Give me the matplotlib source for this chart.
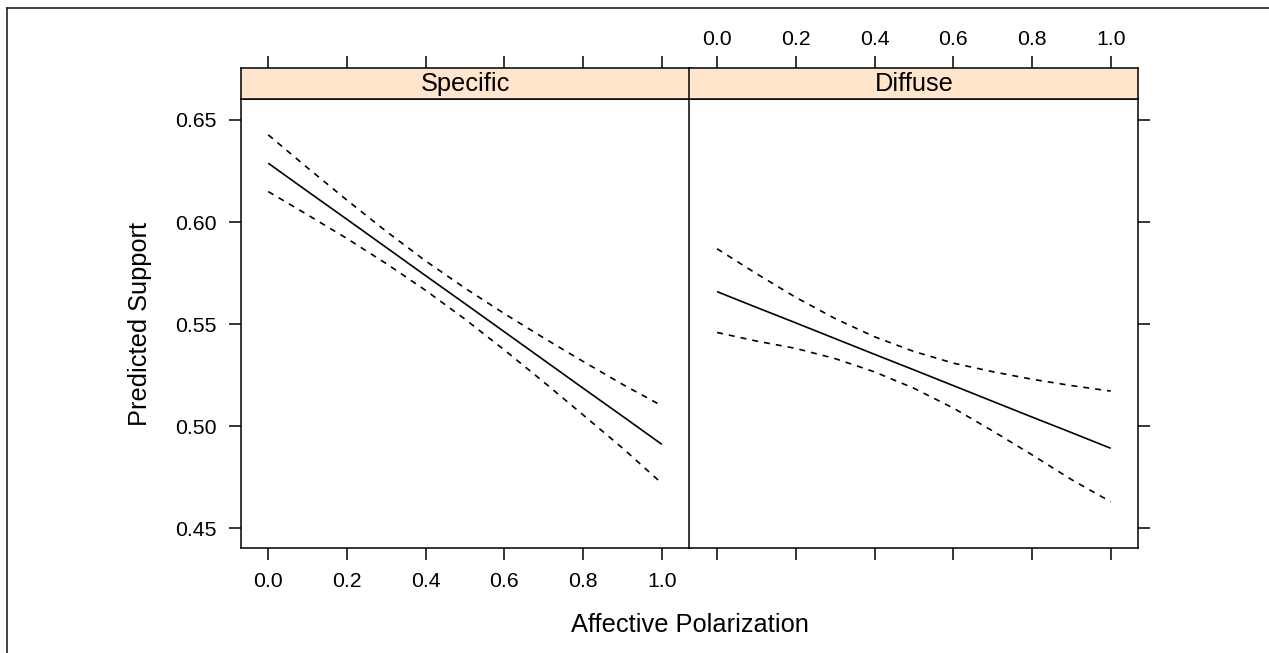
import matplotlib
matplotlib.use("Agg")
import matplotlib.pyplot as plt
from matplotlib.lines import Line2D

plt.rcParams['font.family'] = ['Liberation Sans', 'DejaVu Sans']

# ---- data ----
panels = ["Specific", "Diffuse"]
x_vals = [0.0, 0.1, 0.2, 0.3, 0.4, 0.5, 0.6, 0.7, 0.8, 0.9, 1.0]
fit_specific = [0.6288, 0.6150, 0.6013, 0.5875, 0.5737, 0.5600, 0.5462, 0.5324, 0.5186, 0.5049, 0.4911]
upper_specific = [0.6427, 0.6265, 0.6107, 0.5954, 0.5809, 0.5676, 0.5551, 0.5432, 0.5317, 0.5205, 0.5100]
lower_specific = [0.6149, 0.6035, 0.5919, 0.5796, 0.5665, 0.5524, 0.5373, 0.5216, 0.5055, 0.4893, 0.4720]
fit_diffuse = [0.5659, 0.5582, 0.5506, 0.5429, 0.5352, 0.5276, 0.5199, 0.5122, 0.5045, 0.4969, 0.4892]
upper_diffuse = [0.5869, 0.5747, 0.5631, 0.5527, 0.5438, 0.5366, 0.5309, 0.5267, 0.5230, 0.5199, 0.5172]
lower_diffuse = [0.5459, 0.5417, 0.5381, 0.5331, 0.5266, 0.5186, 0.5089, 0.4977, 0.4860, 0.4739, 0.4630]
x_ticks = [0.0, 0.2, 0.4, 0.6, 0.8, 1.0]
x_ticklabels = ["0.0", "0.2", "0.4", "0.6", "0.8", "1.0"]
y_ticks = [0.45, 0.50, 0.55, 0.60, 0.65]
y_ticklabels = ["0.45", "0.50", "0.55", "0.60", "0.65"]
x_label = "Affective Polarization"
y_label = "Predicted Support"

series = {
    "Specific": (fit_specific, upper_specific, lower_specific),
    "Diffuse": (fit_diffuse, upper_diffuse, lower_diffuse),
}

W, H = 1269, 653
fig = plt.figure(figsize=(W / 100, H / 100), dpi=100)

def fx(px):
    return px / W

def fy(py):
    return 1 - py / H

XLIM = (-0.070, 1.0707)
YLIM = (0.4402, 0.6601)
TICK_FS = 15.3
LAB_FS = 18.3
TL = 8.6
LW_AX = 1.1
LW_LINE = 1.2
DASH = (0, (3.6, 3.6))

panel_left = [240.7, 689.5]
panel_w = 449.0
p_top, p_bot = 99.3, 548.3
s_top = 68.3

for i, name in enumerate(panels):
    l = panel_left[i]
    ax = fig.add_axes([fx(l), fy(p_bot), panel_w / W, (p_bot - p_top) / H])
    sax = fig.add_axes([fx(l), fy(p_top), panel_w / W, (p_top - s_top) / H])
    fit, up, lo = series[name]
    ax.plot(x_vals, fit, color='black', lw=LW_LINE, solid_capstyle='butt')
    ax.plot(x_vals, up, color='black', lw=LW_LINE, linestyle=DASH)
    ax.plot(x_vals, lo, color='black', lw=LW_LINE, linestyle=DASH)
    ax.set_xlim(*XLIM)
    ax.set_ylim(*YLIM)
    sax.set_xlim(*XLIM)
    sax.set_ylim(0, 1)
    sax.set_facecolor('#FFE5CC')
    sax.text(0.5, 0.5, name, transform=sax.transAxes, ha='center', va='center',
             fontsize=LAB_FS)
    for a in (ax, sax):
        for sp in a.spines.values():
            sp.set_linewidth(LW_AX)
            sp.set_color('black')
    sax.set_yticks([])
    sax.set_xticks(x_ticks)
    ax.set_xticks(x_ticks)
    ax.set_yticks(y_ticks)
    sax.tick_params(axis='x', bottom=False, top=True, labelbottom=False,
                    labeltop=(i == 1), direction='out', length=TL, width=LW_AX,
                    labelsize=TICK_FS, pad=5.0)
    if i == 1:
        sax.set_xticklabels(x_ticklabels)
    ax.tick_params(axis='x', bottom=True, top=False, labelbottom=(i == 0),
                   direction='out', length=TL, width=LW_AX, labelsize=TICK_FS, pad=8.5)
    if i == 0:
        ax.set_xticklabels(x_ticklabels)
        ax.set_yticklabels(y_ticklabels)
        ax.tick_params(axis='y', left=True, right=False, labelleft=True,
                       direction='out', length=TL, width=LW_AX, labelsize=TICK_FS, pad=8.9)
    else:
        ax.tick_params(axis='y', left=False, right=True, labelleft=False,
                       labelright=False, direction='out', length=TL, width=LW_AX)

fig.text(fx(140), fy(323.8), y_label, rotation=90, ha='center', va='center',
         fontsize=LAB_FS)
fig.text(fx(689.5), fy(631.7), x_label, ha='center', va='baseline',
         fontsize=LAB_FS)

# outer frame (only top and left visible in the crop)
fig.add_artist(Line2D([fx(7.3), fx(7.3)], [fy(8.3), 0], transform=fig.transFigure,
                      color='#222222', lw=1.2))
fig.add_artist(Line2D([fx(7.3), 1], [fy(8.3), fy(8.3)], transform=fig.transFigure,
                      color='#222222', lw=1.2))

fig.savefig("out.png", dpi=100)
